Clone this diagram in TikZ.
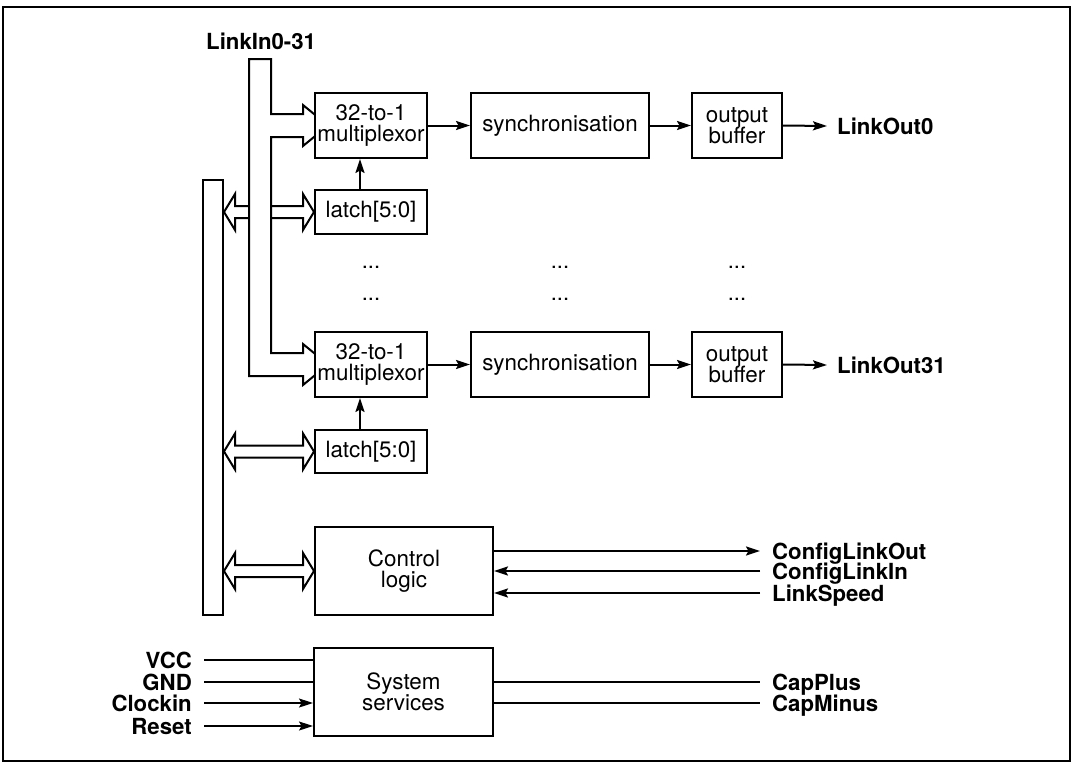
\documentclass[tikz,border=0pt]{standalone}
\usepackage{fontspec}
\setmainfont{TeX Gyre Heros}
\usetikzlibrary{arrows.meta,calc,backgrounds}
\newcommand\hdarrow[2]{%
  \draw[hollow] (#1) -- ++(11,-18) -- ++(0,12) -- ($(#2)+(-11,-6)$) -- ++(0,-12)
    -- (#2) -- ++(-11,18) -- ++(0,-12) -- ($(#1)+(11,6)$) -- ++(0,12) -- cycle;}
\begin{document}
\begin{tikzpicture}[x=1pt,y=-1pt,
  box/.style={draw,line width=2pt,fill=white,minimum width=112pt,minimum height=65pt,
    inner sep=1pt,align=center,font=\fontsize{22.4}{21.5}\selectfont},
  lbl/.style={inner sep=0pt,text height=16pt,text depth=0pt,
    font=\fontsize{22.2}{21}\selectfont\bfseries},
  dotsn/.style={inner sep=0pt,font=\fontsize{22}{21}\selectfont},
  arr/.style={line width=2pt,-{Stealth[length=14pt,width=9pt,inset=2.5pt]}},
  ln/.style={line width=1.3pt},
  arrt/.style={line width=1.3pt,-{Stealth[length=14pt,width=9pt,inset=2.5pt]}},
  hollow/.style={draw,line width=2pt,fill=white,line join=miter},
]
\useasboundingbox (0,0) rectangle (1072,766);
\draw[line width=1.5pt] (3,7) rectangle (1070,761);

% boxes
\node[box] (mux0) at (371,125.5) {32-to-1\\multiplexor};
\node[box,minimum height=44pt] (latch0) at (371,212) {latch[5:0]};
\node[box,minimum width=178pt] (sync0) at (560,125.5) {synchronisation};
\node[box,minimum width=90pt] (buf0) at (737,125.5) {output\\buffer};
\node[box] (mux31) at (371,364.5) {32-to-1\\multiplexor};
\node[box,minimum height=43pt] (latch31) at (371,451.5) {latch[5:0]};
\node[box,minimum width=178pt] (sync31) at (560,364.5) {synchronisation};
\node[box,minimum width=90pt] (buf31) at (737,364.5) {output\\buffer};
\node[box,minimum width=178pt,minimum height=88pt] (ctrl) at (404,571) {Control\\logic};
\node[box,minimum width=179pt,minimum height=88pt] (sys) at (403.5,692) {System\\services};
\node[draw,line width=2pt,minimum width=20pt,minimum height=435pt,inner sep=0pt] (cbus) at (213,397.5) {};

% dots
\node[dotsn] (d1) at (371,267) {...};
\node[dotsn] (d2) at (371,299) {...};
\node[dotsn] (d3) at (560,267) {...};
\node[dotsn] (d4) at (560,299) {...};
\node[dotsn] (d5) at (737,267) {...};
\node[dotsn] (d6) at (737,299) {...};

% labels
\node[lbl,anchor=west] (lin) at (206,41) {LinkIn0-31};
\node[lbl,anchor=west] (lo0) at (837,126) {LinkOut0};
\node[lbl,anchor=west] (lo31) at (837,365) {LinkOut31};
\node[lbl,anchor=west] (clo) at (772,551) {ConfigLinkOut};
\node[lbl,anchor=west] (cli) at (772,571) {ConfigLinkIn};
\node[lbl,anchor=west] (ls) at (772,593) {LinkSpeed};
\node[lbl,anchor=west] (cp) at (772,682) {CapPlus};
\node[lbl,anchor=west] (cm) at (772,703) {CapMinus};
\node[lbl,anchor=east] (vcc) at (192,660) {VCC};
\node[lbl,anchor=east] (gnd) at (192,682) {GND};
\node[lbl,anchor=east] (clk) at (192,703) {Clockin};
\node[lbl,anchor=east] (rst) at (192,726) {Reset};

% hollow buses
\coordinate (la0) at (cbus.east |- latch0.west);
\coordinate (la31) at (cbus.east |- latch31.west);
\coordinate (lac) at (cbus.east |- ctrl.west);
\coordinate (lt) at (249,59);
\coordinate (rt) at (271,59);
\coordinate (m0w) at (mux0.west);
\coordinate (m31w) at (mux31.west);
\coordinate (m0t) at ($(m0w)+(0,-11.5)$);
\coordinate (m0b) at ($(m0w)+(0,11.5)$);
\coordinate (m31t) at ($(m31w)+(0,-11.5)$);
\coordinate (m31b) at ($(m31w)+(0,11.5)$);
\begin{pgfonlayer}{background}
  \hdarrow{la0}{latch0.west}
  \hdarrow{la31}{latch31.west}
  \hdarrow{lac}{ctrl.west}
  \draw[hollow] (lt) -- (rt) -- (rt |- m0t) -- ($(m0w)+(-11,-11.5)$) -- ($(m0w)+(-11,-20.5)$)
    -- ($(m0w)+(14,0)$) -- ($(m0w)+(-11,20.5)$) -- ($(m0w)+(-11,11.5)$) -- (rt |- m0b)
    -- (rt |- m31t) -- ($(m31w)+(-11,-11.5)$) -- ($(m31w)+(-11,-20.5)$)
    -- ($(m31w)+(14,0)$) -- ($(m31w)+(-11,20.5)$) -- ($(m31w)+(-11,11.5)$)
    -- (lt |- m31b) -- cycle;
\end{pgfonlayer}

% simple connectors
\draw[arr] (mux0) -- (sync0);
\draw[arr] (sync0) -- (buf0);
\draw[arr] (buf0.east) -- ([xshift=-10pt]lo0.west);
\draw[arr] ([xshift=-11pt]latch0.north) -- ([xshift=-11pt]mux0.south);
\draw[arr] (mux31) -- (sync31);
\draw[arr] (sync31) -- (buf31);
\draw[arr] (buf31.east) -- ([xshift=-10pt]lo31.west);
\draw[arr] ([xshift=-11pt]latch31.north) -- ([xshift=-11pt]mux31.south);

\draw[arr] (clo.west -| ctrl.east) -- ([xshift=-12pt]clo.west);
\draw[arr] ([xshift=-12pt]cli.west) -- (cli.west -| ctrl.east);
\draw[arr] ([xshift=-12pt]ls.west) -- (ls.west -| ctrl.east);

\draw[ln] (cp.west -| sys.east) -- ([xshift=-12pt]cp.west);
\draw[ln] (cm.west -| sys.east) -- ([xshift=-12pt]cm.west);
\draw[ln] ([xshift=12pt]vcc.east) -- (vcc.east -| sys.west);
\draw[ln] ([xshift=12pt]gnd.east) -- (gnd.east -| sys.west);
\draw[arrt] ([xshift=12pt]clk.east) -- (clk.east -| sys.west);
\draw[arrt] ([xshift=12pt]rst.east) -- (rst.east -| sys.west);
\end{tikzpicture}
\end{document}
